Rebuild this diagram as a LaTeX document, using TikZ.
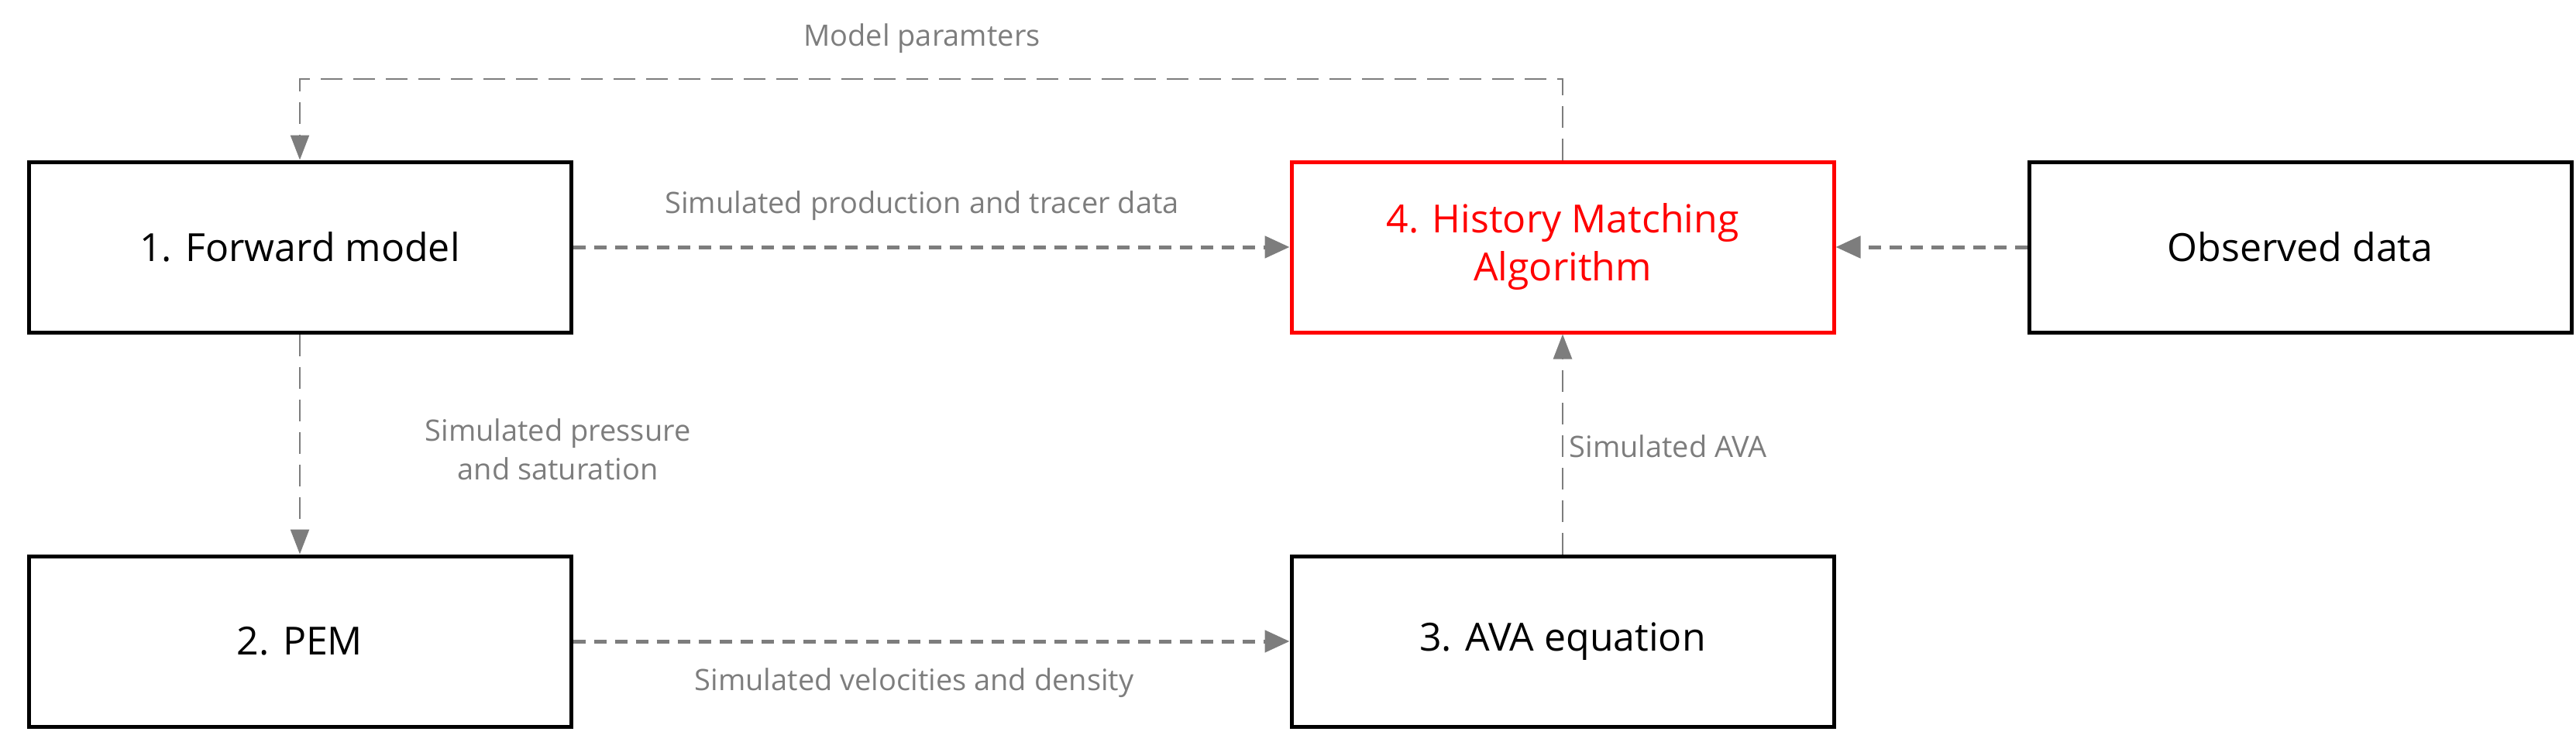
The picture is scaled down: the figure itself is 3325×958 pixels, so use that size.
\documentclass[tikz,border=0pt]{standalone}
\usepackage{fontspec}
\setmainfont{Open Sans}
\usetikzlibrary{arrows.meta}
\definecolor{lg}{RGB}{125,125,125}
\begin{document}
\begin{tikzpicture}[x=1pt,y=-1pt,
 box/.style={draw=black,line width=5pt,minimum width=700pt,minimum height=220pt,inner sep=0pt,font=\fontsize{50}{62}\selectfont,align=center},
 red box/.style={box,draw=red,text=red},
 conn/.style={draw=lg,line width=5pt,dash pattern=on 16pt off 11pt,-{Triangle[length=32pt,width=28pt]}},
 thin conn/.style={draw=lg,line width=2.5pt,dash pattern=on 28pt off 14pt,-{Triangle[length=32pt,width=24pt]}},
 lab/.style={text=lg,font=\fontsize{38}{50}\selectfont,align=center}]
\useasboundingbox (0,0) rectangle (3325,958);
\node[box] (b1) at (387,319) {1. Forward model};
\node[box] (b2) at (387,828) {2. PEM};
\node[box] (b3) at (2017,828) {3. AVA equation};
\node[red box] (b4) at (2017,319) {4. History Matching\\Algorithm};
\node[box] (ob) at (2969,319) {Observed data};
\coordinate (t1) at (387,102);
\coordinate (t4) at (2017,102);
\draw[thin conn] (b4.north) -- (t4) -- (t1) -- (b1.north);
\draw[conn] (b1) -- (b4);
\draw[conn] (ob) -- (b4);
\draw[thin conn] (b1) -- (b2);
\draw[conn] (b2) -- (b3);
\draw[thin conn] (b3) -- (b4);
\node[lab] (l1) at (1190,50) {Model paramters};
\node[lab] (l2) at (1190,266) {Simulated production and tracer data};
\node[lab] (l3) at (720,580) {Simulated pressure\\and saturation};
\node[lab,anchor=west] (l4) at (2022,576) {Simulated AVA};
\node[lab] (l5) at (1180,882) {Simulated velocities and density};
\end{tikzpicture}
\end{document}
